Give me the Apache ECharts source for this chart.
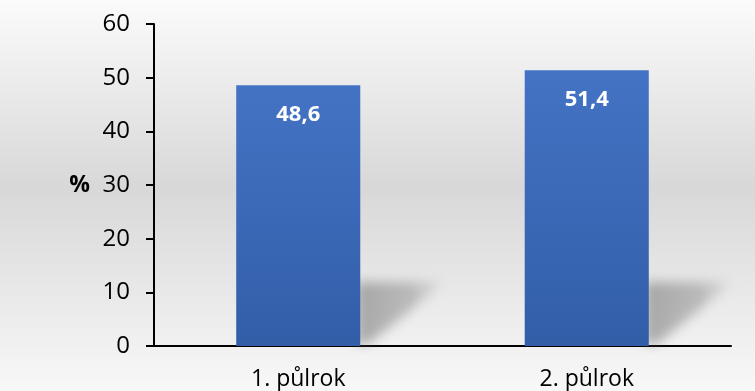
<!DOCTYPE html>
<html>
<head>
<meta charset="utf-8">
<script src="https://cdn.jsdelivr.net/npm/echarts@6/dist/echarts.min.js"></script>
<style>
  html, body { margin: 0; padding: 0; background: #fff; }
  #main { width: 755px; height: 391px; }
</style>
</head>
<body>
<div id="main"></div>
<script>
var categories = ['1. půlrok', '2. půlrok'];
var values = [48.6, 51.4];
var yTicks = [0, 10, 20, 30, 40, 50, 60];

var chartDom = document.getElementById('main');
var myChart = echarts.init(chartDom);
var font = '"Open Sans", sans-serif';

// soft reflection-like shadow to the right of each bar's foot
// (shape drawn off-canvas, only its blurred shadow is shifted back in)
var OFF = 2000;
function renderShadow(params, api) {
  var foot = api.coord([api.value(0), 0]);
  var half = api.size([1, 0])[0] * 0.43 / 2;
  var x = foot[0] + half - OFF;
  var y = foot[1] - 2;
  return {
    type: 'polygon',
    shape: { points: [[x - 4, y], [x - 4, y - 62], [x + 86, y - 62], [x + 8, y]] },
    style: {
      fill: {
        type: 'linear', x: 0, y: 0, x2: 1, y2: 0,
        colorStops: [
          { offset: 0, color: 'rgba(0,0,0,1)' },
          { offset: 0.6, color: 'rgba(0,0,0,0.7)' },
          { offset: 1, color: 'rgba(0,0,0,0.1)' }
        ]
      },
      shadowBlur: 12,
      shadowOffsetX: OFF,
      shadowColor: 'rgba(110,110,110,0.55)'
    }
  };
}

var option = {
  backgroundColor: {
    type: 'linear', x: 0, y: 0, x2: 0, y2: 1,
    colorStops: [
      { offset: 0, color: '#fbfbfb' },
      { offset: 0.48, color: '#d8d8d8' },
      { offset: 1, color: '#f8f8f8' }
    ]
  },
  animation: false,
  grid: { left: 154, right: 24, top: 24, bottom: 44 },
  xAxis: {
    type: 'category',
    data: categories,
    axisTick: { show: false },
    axisLine: { lineStyle: { color: '#000', width: 2 } },
    axisLabel: { color: '#000', fontSize: 23, fontFamily: font, margin: 22 }
  },
  yAxis: {
    type: 'value',
    min: yTicks[0],
    max: yTicks[yTicks.length - 1],
    interval: 10,
    name: '%',
    nameLocation: 'middle',
    nameRotate: 0,
    nameGap: 64,
    nameTextStyle: { color: '#000', fontSize: 23, fontWeight: 'bold', fontFamily: font },
    splitLine: { show: false },
    axisLine: { show: true, lineStyle: { color: '#000', width: 2 } },
    axisTick: { show: true, length: 8, lineStyle: { color: '#000', width: 2 } },
    axisLabel: { color: '#000', fontSize: 24, fontFamily: font, margin: 24 }
  },
  series: [
    {
      type: 'custom',
      renderItem: renderShadow,
      data: values.map(function (v, i) { return [i, v]; }),
      z: 1,
      silent: true,
      clip: false
    },
    {
      type: 'bar',
      data: values,
      barWidth: '43%',
      z: 2,
      itemStyle: {
        color: {
          type: 'linear', x: 0, y: 0, x2: 0, y2: 1,
          colorStops: [
            { offset: 0, color: '#4473c5' },
            { offset: 1, color: '#325ea8' }
          ]
        }
      },
      label: {
        show: true,
        position: 'insideTop',
        distance: 19,
        color: '#fff',
        fontSize: 22,
        fontWeight: 'bold',
        fontFamily: font,
        formatter: function (p) { return String(p.value).replace('.', ','); }
      }
    }
  ]
};

option && myChart.setOption(option);
</script>
</body>
</html>
